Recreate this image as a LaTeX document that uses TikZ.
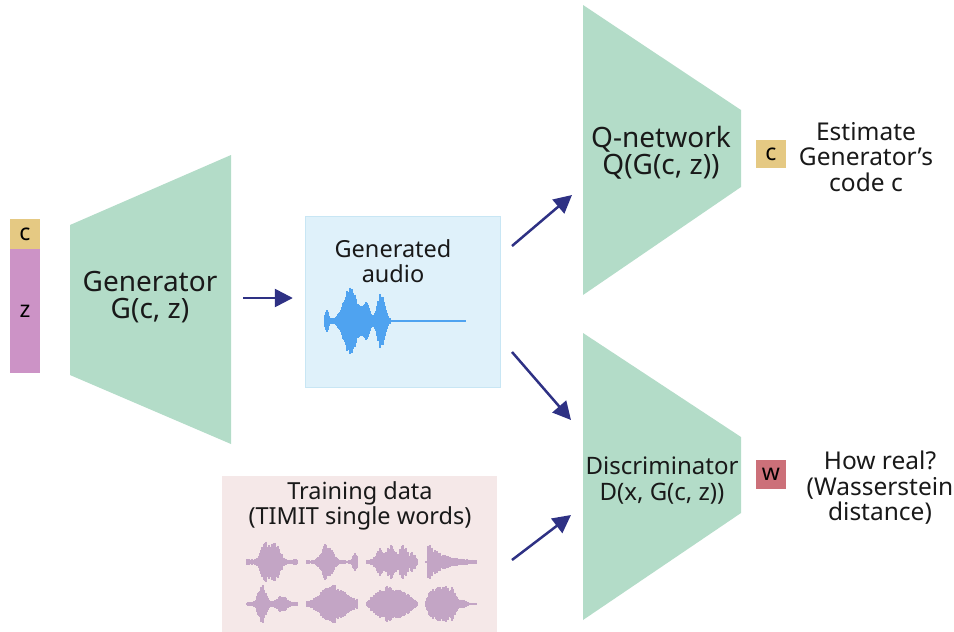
\documentclass[tikz,border=0pt]{standalone}
\usepackage{fontspec}
\setmainfont{Noto Sans}
\usepackage{tikz}
\usetikzlibrary{arrows.meta}
\definecolor{mint}{HTML}{B3DCC8}
\definecolor{ccode}{HTML}{E5C983}
\definecolor{zcode}{HTML}{CC93C6}
\definecolor{wcode}{HTML}{CC7079}
\definecolor{audiobg}{HTML}{DFF1FA}
\definecolor{audioline}{HTML}{C8E6F4}
\definecolor{trainbg}{HTML}{F5E8E8}
\definecolor{wave}{HTML}{4FA3F0}
\definecolor{twave}{HTML}{C3A5C5}
\definecolor{navy}{HTML}{2E3184}
\tikzstyle{code} = [rectangle, 
minimum width=30pt, 
minimum height=30pt, 
inner sep=0pt,
font=\fontsize{23}{26}\selectfont]
\tikzstyle{net} = [fill=mint]
\tikzstyle{netlabel} = [align=center, 
text=black!90,
font=\fontsize{28}{27}\selectfont]
\tikzstyle{smalllabel} = [align=center, 
text=black!90,
font=\fontsize{23.5}{25}\selectfont]
\tikzstyle{arrow} = [navy, line width=2.5pt, -{Triangle[length=18pt,width=18pt]}]
% one training word: x0, y0, envelope of \pos
\newcommand{\trainwave}[3]{%
\foreach \i in {0,...,50}{
\pgfmathsetmacro{\pos}{\i/50}
\pgfmathsetmacro{\amp}{(#3)*(0.65+0.35*rnd)}
\draw[twave, line width=1.1pt] (#1+\i, #2-\amp) -- (#1+\i, #2+\amp);
}}

\begin{document}
\begin{tikzpicture}[x=1pt, y=-1pt]
\useasboundingbox (0,0) rectangle (954,632);
\pgfmathsetseed{7}
% latent code
\node (c) [code, fill=ccode] at (25,234) {c};
\node (z) [code, fill=zcode, minimum height=124pt] at (25,311) {z};

% networks
\fill[net] (70,225) -- (231,155) -- (231,444) -- (70,375) -- cycle;
\fill[net] (583,5) -- (741,110) -- (741,187) -- (583,295) -- cycle;
\fill[net] (583,333) -- (741,437) -- (741,513) -- (583,620) -- cycle;
\node (gen) [netlabel] at (150,297) {Generator\\G(c, z)};
\node (qnet) [netlabel] at (661,153) {Q-network\\Q(G(c, z))};
\node (disc) [smalllabel, font=\fontsize{24}{26}\selectfont] at (662,481) {Discriminator\\D(x, G(c, z))};

% generated audio
\node (audio) [rectangle, fill=audiobg, draw=audioline, minimum width=195pt, minimum height=171pt] at (402.5,301.5) {};
\node (audiotxt) [smalllabel] at (393,261) {Generated\\audio};
\foreach \i in {325,...,390}{
\pgfmathsetmacro{\amp}{(33*exp(-((\i-350)/9)^2) + 16*exp(-((\i-366)/5)^2) + 26*exp(-((\i-381)/5)^2) + 11*exp(-((\i-327)/2)^2) + 2)*(0.78+0.22*rnd)}
\draw[wave, line width=1.1pt] (\i, 321-\amp) -- (\i, 321+\amp);
}
\draw[wave, line width=1.2pt] (390,321) -- (466,321);

% training data
\node (train) [rectangle, fill=trainbg, minimum width=275pt, minimum height=156pt] at (359.5,554) {};
\node (traintxt) [smalllabel] at (360,506) {Training data\\(TIMIT single words)};
\trainwave{247}{562}{3+18*exp(-(((\pos-0.47)/0.22)^2)^2)}
\trainwave{307}{562}{2+18*exp(-((\pos-0.4)/0.14)^2)+8*exp(-((\pos-0.96)/0.05)^2)}
\trainwave{367}{562}{2+16*exp(-(((\pos-0.55)/0.4)^2)^3)*(0.75+0.25*cos(\pos*1500))}
\trainwave{426}{562}{1+20*exp(-3*\pos)*(\pos>0.03)}
\trainwave{247}{604}{2+18*exp(-((\pos-0.3)/0.1)^2)+7*exp(-((\pos-0.7)/0.13)^2)}
\trainwave{307}{604}{3+15*sin(\pos*180)^2+3*\pos}
\trainwave{367}{604}{3+16*sin(\pos*180)}
\trainwave{426}{604}{1+17*exp(-(((\pos-0.32)/0.3)^2)^3)+4*exp(-((\pos-0.72)/0.1)^2)}

% outputs
\node (cout) [code, fill=ccode, minimum height=28pt] at (771,154) {c};
\node (wout) [code, fill=wcode, minimum height=29pt] at (771,474.5) {w};
\node (ctxt) [smalllabel, font=\fontsize{24.5}{25.5}\selectfont] at (866,157) {Estimate\\Generator’s\\code c};
\node (wtxt) [smalllabel, font=\fontsize{24.5}{25.5}\selectfont] at (880,488) {How real?\\(Wasserstein\\distance)};

% arrows
\coordinate (genout) at (231,298);
\coordinate (audq) at (512,246);
\coordinate (qin) at (572,195);
\coordinate (audd) at (512,352);
\coordinate (din) at (571,420);
\coordinate (trd) at (512,560);
\coordinate (din2) at (571,515);
\draw[arrow, shorten <=12pt, shorten >=12pt] (genout) -- (audio.west |- genout);
\draw[arrow] (audq) -- (qin);
\draw[arrow] (audd) -- (din);
\draw[arrow] (trd) -- (din2);
\end{tikzpicture}
\end{document}
